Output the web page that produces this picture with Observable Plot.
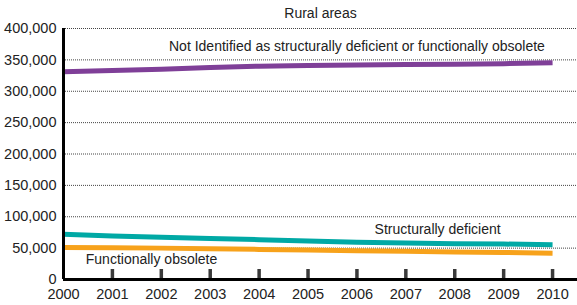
<!DOCTYPE html>
<html>
<head>
<meta charset="utf-8">
<script src="https://cdn.jsdelivr.net/npm/d3@7"></script>
<script src="https://cdn.jsdelivr.net/npm/@observablehq/plot@0.6"></script>
<style>
  body { margin: 0; background: #fff; }
  svg { font-family: "Liberation Sans", Arial, sans-serif; }
</style>
</head>
<body>
<div id="chart"></div>
<script>
const years = [2000, 2001, 2002, 2003, 2004, 2005, 2006, 2007, 2008, 2009, 2010];
const notIdentified = [331000, 333000, 335000, 338000, 340000, 341000, 342000, 342500, 343000, 344000, 345500];
const structurallyDeficient = [72000, 69500, 67500, 65500, 63500, 61500, 59500, 58000, 57000, 56500, 55500];
const functionallyObsolete = [51000, 50500, 50000, 49000, 48000, 47000, 46000, 45000, 44000, 43000, 42000];
const yTicks = [0, 50000, 100000, 150000, 200000, 250000, 300000, 350000, 400000];
const seriesNames = ["Not Identified as structurally deficient or functionally obsolete", "Structurally deficient", "Functionally obsolete"];
const seriesColors = ["#7f3f98", "#00a9a5", "#f7a21b"];
const labelX = [2006, 2007.65, 2001.8];
const labelY = [371000, 80000, 32000];

const rows = [];
[notIdentified, structurallyDeficient, functionallyObsolete].forEach((vals, i) => {
  years.forEach((yr, j) => rows.push({series: seriesNames[i], year: yr, value: vals[j]}));
});
const labels = seriesNames.map((s, i) => ({series: s, x: labelX[i], y: labelY[i]}));

const chart = Plot.plot({
  width: 577,
  height: 305,
  marginLeft: 63,
  marginRight: 0,
  marginTop: 28,
  marginBottom: 26,
  style: {fontSize: "14px", color: "#222"},
  x: {domain: [2000, 2010.51]},
  y: {domain: [0, 400000]},
  color: {domain: seriesNames, range: seriesColors},
  marks: [
    Plot.ruleY(yTicks.slice(1), {stroke: "#444", strokeDasharray: "1,1", strokeWidth: 1}),
    Plot.axisY({ticks: yTicks, tickSize: 0, tickPadding: 7, tickFormat: d3.format(","), label: null, fontSize: 14.5}),
    Plot.axisX({ticks: years, tickSize: 0, tickPadding: 9, tickFormat: d => String(d), label: null, fontSize: 14.5}),
    Plot.ruleX(years.slice(1), {x: d => d, insetTop: 241, stroke: "#3a3a3a", strokeWidth: 3.5}),
    Plot.line(rows, {x: "year", y: "value", z: "series", stroke: "series", strokeWidth: 5, strokeLinecap: "butt"}),
    Plot.ruleX([2000], {stroke: "#000", strokeWidth: 3}),
    Plot.ruleY([0], {stroke: "#000", strokeWidth: 3}),
    Plot.text(labels, {x: "x", y: "y", text: "series", fill: "#222", fontSize: 14}),
    Plot.text(["Rural areas"], {frameAnchor: "top", dy: -20, fill: "#222", fontSize: 14})
  ]
});
document.getElementById("chart").append(chart);
</script>
</body>
</html>
